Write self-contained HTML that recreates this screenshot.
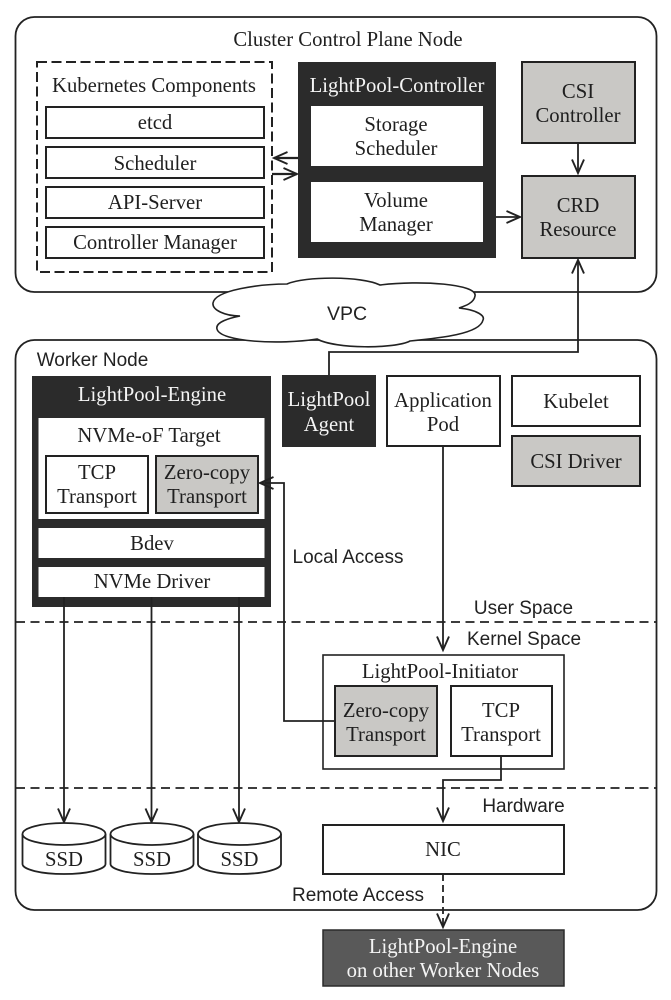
<!DOCTYPE html>
<html><head><meta charset="utf-8"><style>
html,body{margin:0;padding:0;background:#fff}
svg{display:block}
.s{font-family:"Liberation Serif",serif;font-size:20.7px;fill:#1f1f1f;text-anchor:middle}
.a{font-family:"Liberation Sans",sans-serif;font-size:19px;fill:#222;text-anchor:middle}
.w{fill:#f4f4f4}
.b{fill:#fff;stroke:#222;stroke-width:2}
.g{fill:#c9c8c5;stroke:#222;stroke-width:2}
.d{fill:#2b2b2b}
.i{fill:#fff}
.l{fill:none;stroke:#222;stroke-width:1.8}
</style></head><body>
<svg width="671" height="1000" viewBox="0 0 671 1000" xmlns="http://www.w3.org/2000/svg">
<defs>
<marker id="m" markerWidth="18" markerHeight="16" refX="15" refY="8" orient="auto" markerUnits="userSpaceOnUse"><path d="M1.5 2L15 8L1.5 14" fill="none" stroke="#222" stroke-width="1.9"/></marker>
</defs>
<rect x="15.5" y="17" width="641" height="275" rx="19" fill="#fff" stroke="#222" stroke-width="1.8"/>
<rect x="15.5" y="340" width="641" height="570" rx="19" fill="#fff" stroke="#222" stroke-width="1.8"/>
<text class="s" x="348" y="46">Cluster Control Plane Node</text>
<text class="a" x="92.5" y="366">Worker Node</text>

<rect x="37" y="62" width="235" height="210" fill="none" stroke="#222" stroke-width="2" stroke-dasharray="10 4.5"/>
<text class="s" x="154" y="92">Kubernetes Components</text>
<rect class="b" x="46" y="107" width="218" height="31"/><text class="s" x="155" y="129">etcd</text>
<rect class="b" x="46" y="147" width="218" height="31"/><text class="s" x="155" y="170">Scheduler</text>
<rect class="b" x="46" y="187" width="218" height="31"/><text class="s" x="155" y="209">API-Server</text>
<rect class="b" x="46" y="227" width="218" height="31"/><text class="s" x="155" y="249">Controller Manager</text>

<rect class="d" x="298" y="62" width="198" height="196"/>
<text class="s w" x="397" y="92">LightPool-Controller</text>
<rect class="i" x="311" y="106" width="172" height="60"/><text class="s" x="396" y="131">Storage</text><text class="s" x="396" y="155">Scheduler</text>
<rect class="i" x="311" y="182" width="172" height="60"/><text class="s" x="396" y="207">Volume</text><text class="s" x="396" y="231">Manager</text>

<rect class="g" x="522" y="62" width="113" height="81"/><text class="s" x="578" y="98">CSI</text><text class="s" x="578" y="122">Controller</text>
<rect class="g" x="522" y="176" width="113" height="82"/><text class="s" x="578" y="212">CRD</text><text class="s" x="578" y="236">Resource</text>
<path class="l" d="M578 143V173" marker-end="url(#m)"/>
<path class="l" d="M496 217H520" marker-end="url(#m)"/>
<path d="M298 158H274" fill="none" stroke="#222" stroke-width="2.2" marker-end="url(#m)"/>
<path d="M272 174H297" fill="none" stroke="#222" stroke-width="2.2" marker-end="url(#m)"/>

<path d="M287 284C305 276 362 276 380 285C420 280 478 284 475 296C474 303 465 306 459 308C478 310 485 316 483 320C480 334 440 338 410 341C395 349 335 349 317 339C280 345 220 342 217 329C215 322 230 318 240 316C225 316 212 310 213 303C215 290 260 284 287 284Z" fill="#fff" stroke="#222" stroke-width="1.6"/>
<text class="a" x="347" y="320" style="font-size:19.5px">VPC</text>

<rect class="d" x="32" y="376" width="239" height="231"/>
<text class="s w" x="152" y="401">LightPool-Engine</text>
<rect class="i" x="38.5" y="418" width="226" height="101"/>
<text class="s" x="149" y="442">NVMe-oF Target</text>
<rect class="b" x="46" y="456" width="102" height="57"/><text class="s" x="97" y="479">TCP</text><text class="s" x="97" y="503">Transport</text>
<rect class="g" x="156" y="456" width="102" height="57"/><text class="s" x="207" y="479">Zero-copy</text><text class="s" x="207" y="503">Transport</text>
<rect class="i" x="38.5" y="528" width="226" height="30"/><text class="s" x="152" y="550">Bdev</text>
<rect class="i" x="38.5" y="567" width="226" height="30"/><text class="s" x="152" y="588">NVMe Driver</text>

<rect class="d" x="282" y="375" width="94" height="72"/>
<text class="s w" x="329" y="406">LightPool</text><text class="s w" x="329" y="431">Agent</text>
<rect class="b" x="387" y="376" width="113" height="70"/><text class="s" x="443" y="407">Application</text><text class="s" x="443" y="431">Pod</text>
<rect class="b" x="512" y="376" width="128" height="50"/><text class="s" x="576" y="408">Kubelet</text>
<rect class="g" x="512" y="436" width="128" height="50"/><text class="s" x="576" y="468">CSI Driver</text>
<path class="l" d="M329 375V352H578V260" marker-end="url(#m)"/>

<path d="M16 622H656M16 788H656" fill="none" stroke="#222" stroke-width="1.8" stroke-dasharray="9 5.5"/>
<text class="a" x="523.5" y="614">User Space</text>
<text class="a" x="524" y="645">Kernel Space</text>
<text class="a" x="523.5" y="812">Hardware</text>
<text class="a" x="348" y="563">Local Access</text>
<text class="a" x="358" y="901">Remote Access</text>

<path class="l" d="M443 446V650" marker-end="url(#m)"/>
<rect x="323" y="655" width="241" height="114" fill="#fff" stroke="#222" stroke-width="1.6"/>
<text class="s" x="440" y="678">LightPool-Initiator</text>
<rect class="g" x="335" y="686" width="102" height="70"/><text class="s" x="386" y="717">Zero-copy</text><text class="s" x="386" y="741">Transport</text>
<rect class="b" x="451" y="686" width="101" height="70"/><text class="s" x="501" y="717">TCP</text><text class="s" x="501" y="741">Transport</text>
<path class="l" d="M335 721H284V483H260" marker-end="url(#m)"/>
<path class="l" d="M501 756V780H443V821" marker-end="url(#m)"/>

<path class="l" d="M64 597V822" marker-end="url(#m)"/>
<path class="l" d="M151.5 597V822" marker-end="url(#m)"/>
<path class="l" d="M239 597V822" marker-end="url(#m)"/>

<path d="M22.5 834V864A41.5 10 0 0 0 105.5 864V834" fill="#fff" stroke="#222" stroke-width="1.8"/><ellipse cx="64" cy="834" rx="41.5" ry="11" fill="#fff" stroke="#222" stroke-width="1.8"/><text class="s" x="64" y="866">SSD</text>
<path d="M110.5 834V864A41.5 10 0 0 0 193.5 864V834" fill="#fff" stroke="#222" stroke-width="1.8"/><ellipse cx="152" cy="834" rx="41.5" ry="11" fill="#fff" stroke="#222" stroke-width="1.8"/><text class="s" x="152" y="866">SSD</text>
<path d="M198 834V864A41.5 10 0 0 0 281 864V834" fill="#fff" stroke="#222" stroke-width="1.8"/><ellipse cx="239.5" cy="834" rx="41.5" ry="11" fill="#fff" stroke="#222" stroke-width="1.8"/><text class="s" x="239.5" y="866">SSD</text>

<rect class="b" x="323" y="825" width="241" height="49"/><text class="s" x="443" y="856">NIC</text>
<path d="M443 874V927" fill="none" stroke="#222" stroke-width="1.8" stroke-dasharray="7 4" marker-end="url(#m)"/>
<rect x="323" y="930" width="241" height="56" fill="#595959" stroke="#2b2b2b" stroke-width="1.5"/>
<text class="s w" x="443" y="953">LightPool-Engine</text>
<text class="s w" x="443" y="977">on other Worker Nodes</text>
</svg>
</body></html>
